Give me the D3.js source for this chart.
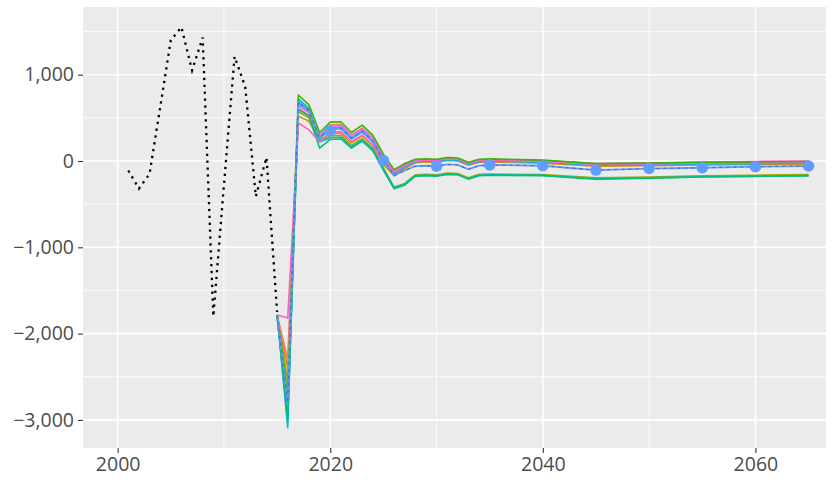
<!DOCTYPE html>
<html>
<head>
<meta charset="utf-8">
<script src="https://cdn.jsdelivr.net/npm/d3@7"></script>
<style>
  body { margin: 0; background: #fff; }
  .tick text { font-family: "Open Sans", sans-serif; fill: #4d4d4d; }
</style>
</head>
<body>
<div class="chart"></div>
<script>
var svgWidth = 833;
var svgHeight = 482;

var margin = { top: 7, right: 7, bottom: 34, left: 83 };
var width = svgWidth - margin.left - margin.right;
var height = svgHeight - margin.top - margin.bottom;

// historical series (black dotted)
var histYears = [2001, 2002, 2003, 2004, 2005, 2006, 2007, 2008, 2009, 2010, 2011, 2012, 2013, 2014, 2015];
var histValues = [-110, -320, -150, 620, 1400, 1550, 1050, 1430, -1800, -280, 1210, 860, -410, 40, -1750];

// projection years
var projYears = [2015, 2016, 2017, 2018, 2019, 2020, 2021, 2022, 2023, 2024, 2025, 2026, 2027, 2028, 2029, 2030,
  2031, 2032, 2033, 2034, 2035, 2040, 2045, 2050, 2055, 2060, 2065];

var greenVals   = [-1785, -2700, 765, 650, 330, 450, 455, 330, 415, 300, 80, -100, -30, 20, 25, 20, 40, 35, -15, 20, 25, 10, -30, -25, -15, -10, -5];
var redVals     = [-1785, -2300, 610, 530, 300, 420, 425, 300, 380, 270, 50, -120, -50, 5, 15, 10, 30, 25, -25, 10, 15, 0, -35, -30, -20, -15, -10];
var magentaVals = [-1785, -2900, 640, 560, 290, 400, 410, 290, 370, 255, 40, -130, -55, 0, 10, 5, 25, 20, -30, 5, 10, -5, -40, -35, -25, -20, -15];
var purpleVals  = [-1785, -2850, 660, 570, 280, 390, 395, 270, 350, 240, 25, -140, -60, -5, 5, 0, 20, 15, -35, 0, 5, -10, -45, -40, -30, -25, -20];
var skyVals     = [-1785, -2950, 690, 590, 260, 370, 375, 255, 335, 225, 10, -150, -70, -10, 0, -5, 15, 10, -40, -5, 0, -15, -50, -45, -35, -30, -25];
var pinkVals    = [-1785, -1820, 440, 360, 220, 330, 340, 225, 300, 190, -20, -110, -40, 10, 15, 10, 30, 25, -25, 10, 15, 5, -30, -25, -12, -5, 0];
var orangeVals  = [-1785, -2400, 520, 460, 240, 320, 320, 210, 290, 180, -40, -170, -90, -20, -10, -15, 5, 0, -50, -15, -10, -25, -60, -55, -45, -40, -35];
var oliveVals   = [-1785, -2550, 570, 500, 230, 290, 295, 180, 260, 150, -80, -300, -260, -160, -155, -160, -140, -145, -195, -155, -150, -158, -195, -185, -172, -165, -158];
var cyanVals    = [-1785, -3090, 720, 610, 220, 270, 275, 165, 245, 135, -95, -310, -270, -170, -165, -170, -150, -155, -205, -165, -160, -165, -205, -195, -182, -175, -168];
var tealVals    = [-1785, -3000, 600, 520, 150, 250, 255, 150, 230, 120, -105, -320, -280, -175, -170, -175, -155, -160, -210, -170, -165, -170, -210, -200, -186, -178, -172];
var blueVals    = [-1785, -2800, 680, 580, 270, 380, 385, 265, 345, 235, 10, -170, -110, -60, -55, -60, -40, -45, -95, -55, -45, -55, -105, -88, -78, -66, -58];

// blue points every 5 years
var dotYears = [2020, 2025, 2030, 2035, 2040, 2045, 2050, 2055, 2060, 2065];
var dotValues = [350, 5, -60, -45, -55, -105, -85, -78, -66, -58];

var xTicks = [2000, 2020, 2040, 2060];
var xMinor = [2010, 2030, 2050];
var yTicks = [-3000, -2000, -1000, 0, 1000];
var yMinor = [-2500, -1500, -500, 500, 1500];

var series = [
  { color: "#D89000", values: orangeVals },
  { color: "#A3A500", values: oliveVals },
  { color: "#F8766D", values: redVals },
  { color: "#9590FF", values: purpleVals },
  { color: "#00B0F6", values: skyVals },
  { color: "#00BFC4", values: cyanVals },
  { color: "#E76BF3", values: magentaVals },
  { color: "#00BF7D", values: tealVals },
  { color: "#FF62BC", values: pinkVals },
  { color: "#39B600", values: greenVals }
];

var svg = d3.select(".chart")
  .append("svg")
  .attr("width", svgWidth)
  .attr("height", svgHeight)
  .append("g")
  .attr("transform", "translate(" + margin.left + "," + margin.top + ")");

var x = d3.scaleLinear().domain([1996.74, 2066.64]).range([0, width]);
var y = d3.scaleLinear().domain([-3325.6, 1784.5]).range([height, 0]);

// panel
svg.append("rect")
  .attr("width", width)
  .attr("height", height)
  .attr("fill", "#ebebeb");

svg.selectAll(".minor-y").data(yMinor).enter().append("line")
  .attr("x1", 0).attr("x2", width)
  .attr("y1", d => y(d)).attr("y2", d => y(d))
  .attr("stroke", "#fff").attr("stroke-width", 0.8);
svg.selectAll(".minor-x").data(xMinor).enter().append("line")
  .attr("y1", 0).attr("y2", height)
  .attr("x1", d => x(d)).attr("x2", d => x(d))
  .attr("stroke", "#fff").attr("stroke-width", 0.8);
svg.selectAll(".major-y").data(yTicks).enter().append("line")
  .attr("x1", 0).attr("x2", width)
  .attr("y1", d => y(d)).attr("y2", d => y(d))
  .attr("stroke", "#fff").attr("stroke-width", 1.6);
svg.selectAll(".major-x").data(xTicks).enter().append("line")
  .attr("y1", 0).attr("y2", height)
  .attr("x1", d => x(d)).attr("x2", d => x(d))
  .attr("stroke", "#fff").attr("stroke-width", 1.6);

var line = d3.line()
  .x(d => x(d[0]))
  .y(d => y(d[1]));

// historical dotted line
svg.append("path")
  .datum(d3.zip(histYears, histValues))
  .attr("d", line)
  .attr("fill", "none")
  .attr("stroke", "#000")
  .attr("stroke-width", 2.3)
  .attr("stroke-dasharray", "2.3,4.6");

// projection lines
series.forEach(function(s) {
  svg.append("path")
    .datum(d3.zip(projYears, s.values))
    .attr("d", line)
    .attr("fill", "none")
    .attr("stroke", s.color)
    .attr("stroke-width", 1.6)
    .attr("stroke-linejoin", "round");
});

svg.append("path")
  .datum(d3.zip(projYears, blueVals))
  .attr("d", line)
  .attr("fill", "none")
  .attr("stroke", "#619CFF")
  .attr("stroke-width", 1.8);
svg.append("path")
  .datum(d3.zip(projYears, blueVals))
  .attr("d", line)
  .attr("fill", "none")
  .attr("stroke", "#2f4f80")
  .attr("stroke-opacity", 0.55)
  .attr("stroke-width", 1.2)
  .attr("stroke-dasharray", "3,4");

svg.selectAll(".dot").data(d3.zip(dotYears, dotValues)).enter().append("circle")
  .attr("cx", d => x(d[0]))
  .attr("cy", d => y(d[1]))
  .attr("r", 5.8)
  .attr("fill", "#619CFF");

// axes
var bottomAxis = d3.axisBottom(x).tickValues(xTicks).tickFormat(d3.format("d")).tickSize(5).tickPadding(4);
var leftAxis = d3.axisLeft(y).tickValues(yTicks).tickFormat(d3.format(",")).tickSize(5).tickPadding(4);

var gx = svg.append("g")
  .attr("transform", "translate(0," + height + ")")
  .call(bottomAxis);
var gy = svg.append("g").call(leftAxis);

[gx, gy].forEach(function(g) {
  g.select(".domain").remove();
  g.selectAll(".tick line").attr("stroke", "#333").attr("stroke-width", 1.1);
  g.selectAll(".tick text").style("font-size", "19.5px");
});
</script>
</body>
</html>
